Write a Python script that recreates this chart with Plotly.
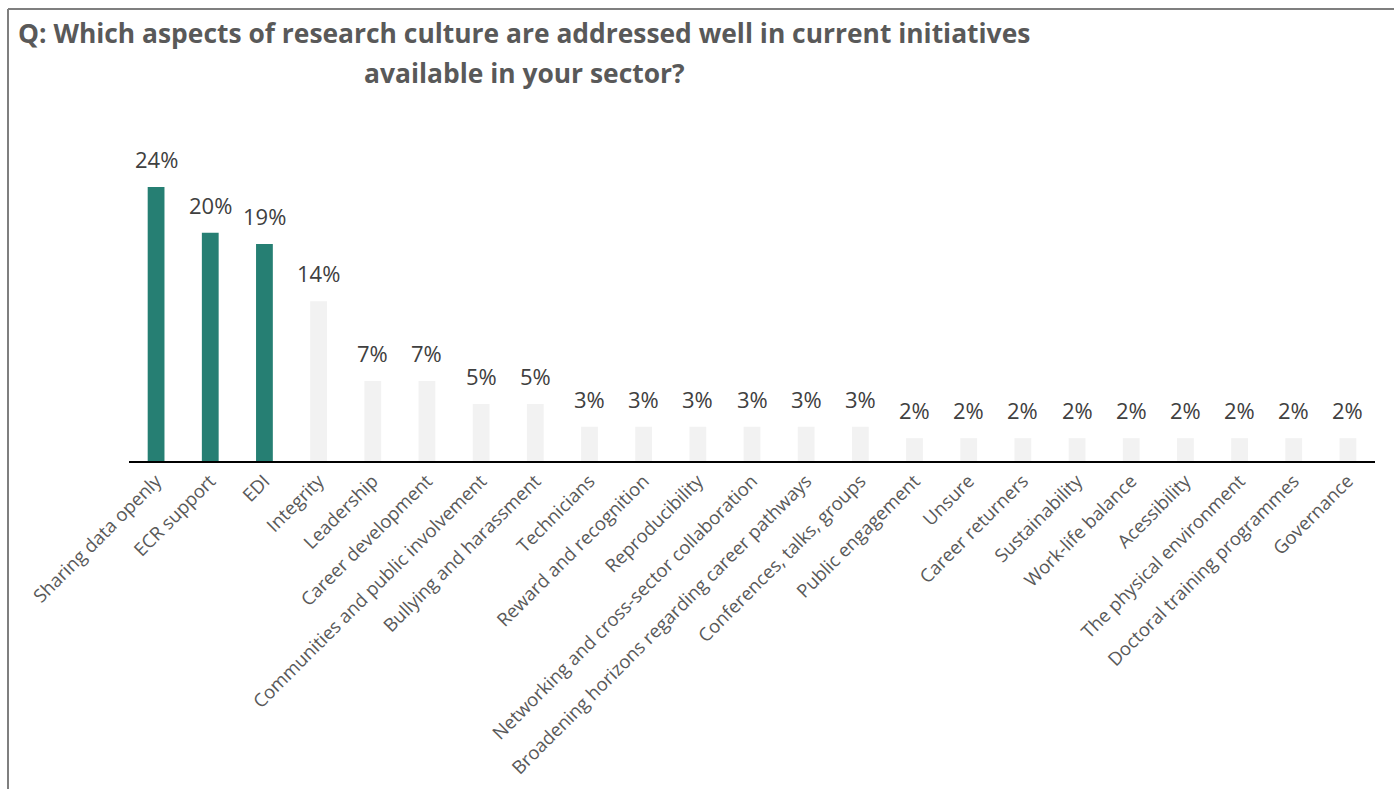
import plotly.graph_objects as go

# Survey responses (% of respondents)
categories = [
    "Sharing data openly", "ECR support", "EDI", "Integrity", "Leadership",
    "Career development", "Communities and public involvement",
    "Bullying and harassment", "Technicians", "Reward and recognition",
    "Reproducibility", "Networking and cross-sector collaboration",
    "Broadening horizons regarding career pathways",
    "Conferences, talks, groups", "Public engagement", "Unsure",
    "Career returners", "Sustainability", "Work-life balance", "Acessibility",
    "The physical environment", "Doctoral training programmes", "Governance",
]
values = [24, 20, 19, 14, 7, 7, 5, 5, 3, 3, 3, 3, 3, 3, 2, 2, 2, 2, 2, 2, 2, 2, 2]
highlight_count = 3
title_lines = [
    "Q: Which aspects of research culture are addressed well in current initiatives",
    "available in your sector?",
]

TEAL = "#267F73"
GREY = "#F2F2F2"
bar_colors = [TEAL if i < highlight_count else GREY for i in range(len(values))]

W, H = 1394, 789
ML, MR, MT, MB = 129, 19, 100, 328
plot_w = W - ML - MR
plot_h = H - MT - MB
px_per_unit = 274 / 24.0
y_max = plot_h / px_per_unit


def px_to_paper_x(px):
    return (px - ML) / plot_w


def py_to_paper_y(py):
    return (H - MB - py) / plot_h


fig = go.Figure()
fig.add_trace(go.Bar(
    x=categories, y=values, marker=dict(color=bar_colors, line=dict(width=0)),
    hoverinfo="skip", showlegend=False,
))

# value labels above each bar
for c, v in zip(categories, values):
    fig.add_annotation(
        x=c, y=v, text=f"{v}%", showarrow=False, yanchor="bottom", yshift=11,
        font=dict(family="Open Sans", size=22, color="#404040"),
    )

# two-line centred title
for line, cy in zip(title_lines, [33, 73]):
    fig.add_annotation(
        xref="paper", yref="paper", x=px_to_paper_x(524), y=py_to_paper_y(cy),
        xanchor="center", yanchor="middle", showarrow=False, text=line,
        font=dict(family="Open Sans", size=26.4, color="#595959", weight="bold"),
    )

# outer frame (top and left edges)
frame = dict(color="#7F7F7F", width=2)
fig.add_shape(type="line", xref="paper", yref="paper",
              x0=px_to_paper_x(8), x1=px_to_paper_x(W + 5),
              y0=py_to_paper_y(9), y1=py_to_paper_y(9), line=frame)
fig.add_shape(type="line", xref="paper", yref="paper",
              x0=px_to_paper_x(8), x1=px_to_paper_x(8),
              y0=py_to_paper_y(9), y1=py_to_paper_y(H + 5), line=frame)

fig.update_layout(
    width=W, height=H,
    margin=dict(l=ML, r=MR, t=MT, b=MB, autoexpand=False),
    paper_bgcolor="white", plot_bgcolor="white",
    bargap=0.69,
    xaxis=dict(
        showline=True, linecolor="#000000", linewidth=2,
        ticks="", tickangle=-45,
        tickfont=dict(family="Open Sans", size=18.5, color="#595959"),
        showgrid=False, zeroline=False,
    ),
    yaxis=dict(
        range=[0, y_max], visible=False, showgrid=False, zeroline=False,
    ),
)

fig.write_html("out.html")
